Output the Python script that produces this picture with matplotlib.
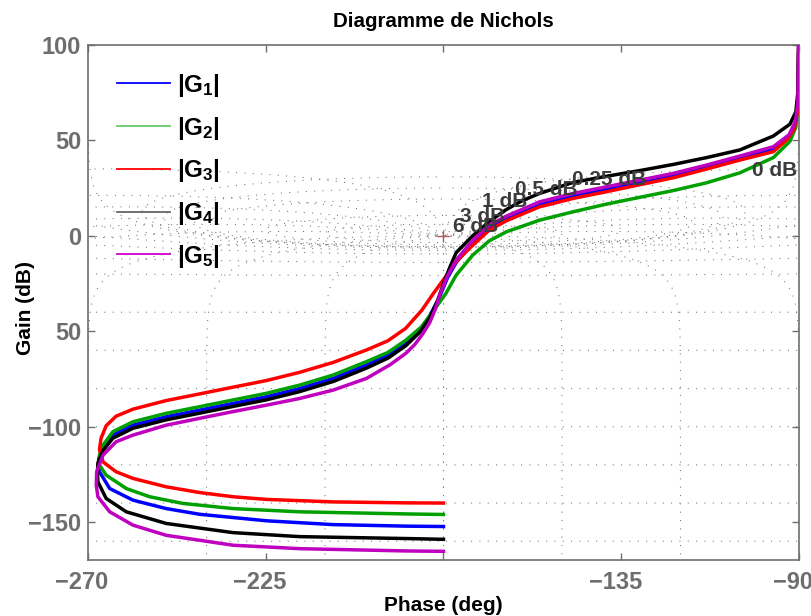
import numpy as np
import matplotlib
matplotlib.use('Agg')
import matplotlib.pyplot as plt
from matplotlib.lines import Line2D
from matplotlib.transforms import ScaledTranslation

plt.rcParams['font.family'] = ['Liberation Sans', 'DejaVu Sans']
plt.rcParams['font.weight'] = 'bold'
plt.rcParams['mathtext.fontset'] = 'custom'
plt.rcParams['mathtext.rm'] = 'Liberation Sans:bold'
plt.rcParams['mathtext.bf'] = 'Liberation Sans:bold'
plt.rcParams['mathtext.it'] = 'Liberation Sans:bold'
plt.rcParams['mathtext.default'] = 'bf'

# ---- data (phase in deg, gain in dB) ----
g1_phase = [-90.05, -90.3, -91.0, -92.7, -96.5, -105.0, -113.4, -121.9, -130.3, -138.8,
            -147.2, -155.7, -164.1, -168.4, -172.6, -176.8, -179.0, -181.0, -183.5, -185.8,
            -189.5, -194.0, -199.5, -207.9, -216.4, -224.8, -233.3, -241.7, -250.2, -258.6,
            -263.7, -266.2, -267.3, -267.1, -264.5, -258.6, -250.2, -241.7, -224.8, -207.9,
            -189.5, -180.0]
g1_gain = [105, 68, 58, 52, 45.5, 40.8, 36.2, 31.7, 28.0, 24.5,
           21.0, 16.6, 9.1, 4.4, -3.5, -14.0, -22.0, -32.0, -42.0, -48.8,
           -55.8, -62.3, -67.7, -74.7, -80.0, -84.3, -87.8, -91.3, -94.8, -99.2,
           -104.4, -111.0, -117.0, -123.6, -132.4, -138.5, -142.9, -145.9, -149.3, -151.3,
           -152.1, -152.3]

g2_phase = [-90.05, -90.3, -90.8, -92.3, -96.5, -105.0, -113.4, -121.9, -130.3, -138.8,
            -147.2, -155.7, -164.1, -168.4, -172.6, -176.8, -179.4, -181.4, -185.6, -189.5,
            -194.0, -199.5, -207.9, -216.4, -224.8, -233.3, -241.7, -250.2, -258.6, -263.7,
            -266.2, -267.1, -267.1, -265.4, -260.3, -254.4, -246.0, -233.3, -216.4, -189.5,
            -180.0]
g2_gain = [105, 68, 57, 49.5, 41.0, 33.0, 27.8, 23.7, 20.2, 16.6,
           12.6, 8.2, 2.1, -2.6, -10.1, -20.6, -30.2, -36.0, -47.7, -54.6,
           -61.0, -65.9, -72.9, -78.2, -82.5, -86.0, -89.5, -93.0, -97.4, -102.6,
           -109.7, -114.9, -120.1, -125.4, -132.4, -136.7, -140.2, -142.9, -144.6, -145.7,
           -146.0]

g3_phase = [-90.05, -90.3, -91.2, -93.0, -96.5, -105.0, -113.4, -121.9, -130.3, -138.8,
            -147.2, -155.7, -164.1, -168.4, -172.6, -176.8, -179.5, -182.5, -185.5, -189.6,
            -194.1, -199.5, -207.9, -216.4, -224.8, -233.3, -241.7, -250.2, -258.6, -262.9,
            -265.4, -266.7, -267.1, -266.2, -262.9, -258.6, -250.2, -241.7, -233.3, -224.8,
            -207.9, -189.5, -180.0]
g3_gain = [105, 66, 56, 50.5, 44.1, 39.7, 35.0, 30.4, 26.8, 23.1,
           19.6, 15.2, 7.9, 3.0, -4.9, -13.5, -21.5, -30.0, -39.0, -48.5,
           -55.0, -59.8, -66.3, -71.5, -75.8, -79.3, -82.8, -86.3, -90.8, -94.5,
           -99.5, -106.1, -112.0, -118.4, -123.6, -127.1, -131.5, -134.5, -136.7, -138.1,
           -139.4, -139.9, -140.0]

g4_phase = [-90.05, -90.3, -90.8, -92.3, -96.5, -105.0, -113.4, -121.9, -130.3, -138.8,
            -147.2, -155.7, -160.0, -164.1, -168.4, -172.6, -176.8, -178.5, -180.0, -181.5,
            -183.5, -186.0, -189.5, -194.0, -199.5, -207.9, -216.4, -224.8, -233.3, -241.7,
            -250.2, -258.6, -263.7, -266.2, -267.5, -267.6, -267.5, -265.4, -260.3, -250.2,
            -233.3, -216.4, -189.5, -180.0]
g4_gain = [105, 75, 65, 58.5, 52.3, 45.0, 41.0, 37.4, 34.2, 31.2,
           28.0, 22.2, 18.5, 13.8, 7.5, 0.0, -8.8, -17.0, -25.0, -34.0,
           -43.0, -50.5, -57.5, -64.0, -69.3, -76.3, -81.6, -85.9, -89.4, -92.9,
           -96.4, -100.8, -106.0, -112.5, -119.0, -124.5, -128.9, -137.6, -144.6, -150.7,
           -155.5, -157.6, -158.6, -159.0]

g5_phase = [-90.05, -90.3, -90.9, -92.5, -96.5, -105.0, -113.4, -121.9, -130.3, -138.8,
            -147.2, -155.7, -164.1, -168.4, -172.6, -176.8, -179.0, -180.8, -182.0, -183.5,
            -185.3, -187.3, -189.5, -193.5, -199.5, -207.9, -216.4, -224.8, -233.3, -241.7,
            -250.2, -258.6, -262.9, -266.2, -267.8, -267.9, -267.5, -264.5, -258.6, -250.2,
            -233.3, -216.4, -189.5, -180.0]
g5_gain = [105, 70, 60, 53, 46.7, 41.8, 37.1, 32.7, 29.2, 25.7,
           22.2, 17.8, 10.3, 5.6, -2.3, -12.7, -21.0, -30.0, -38.0, -45.5,
           -51.5, -57.0, -61.5, -67.5, -74.7, -80.8, -85.2, -88.7, -92.1, -95.6,
           -99.2, -104.4, -107.9, -114.9, -123.6, -130.6, -136.7, -144.6, -151.6, -156.9,
           -162.1, -163.9, -165.1, -165.3]

labels = [r'$|G_1|$', r'$|G_2|$', r'$|G_3|$', r'$|G_4|$', r'$|G_5|$']
line_colors = ['#0000ff', '#00a000', '#ff0000', '#000000', '#bf00bf']
legend_colors = ['#0000ff', '#66cc66', '#ff0000', '#666666', '#cc00cc']

# closed-loop gain contour labels (text, phase, gain)
contour_labels = [('6 dB', -177.6, 5.1), ('3 dB', -175.8, 10.3), ('1 dB', -170.2, 18.2),
                  ('0.5 dB', -161.9, 24.5), ('0.25 dB', -147.4, 29.7), ('0 dB', -101.8, 34.4)]

grid_gains_db = [6, 3, 1, 0.5, 0.25, 0, -1, -3, -6, -12, -20, -40, -60, -80, -100,
                 -120, -140, -160]
grid_phases = [1, 5, 10, 20, 30, 50, 90, 120, 150, 180]

gray = '#6e6e6e'

fig = plt.figure(figsize=(8.12, 6.16), dpi=100)
ax = fig.add_axes([88 / 812, 1 - 560.3 / 616, (799 - 88) / 812, (560.3 - 45) / 616])

# Nichols chart grid (closed loop M and N contours)
gkw = dict(color='0.45', lw=0.75, linestyle=(0, (1.0, 7)), zorder=1)
th = np.radians(np.linspace(-359.95, -0.05, 3000))
for mdb in grid_gains_db:
    T = 10 ** (mdb / 20) * np.exp(1j * th)
    G = T / (1 - T)
    ph = np.degrees(np.unwrap(np.angle(G)))
    gdb = 20 * np.log10(np.abs(G))
    for k in (-720, -360, 0, 360):
        ax.plot(ph + k, gdb, **gkw)
mag = np.logspace(-9, 5, 4000)
for p in grid_phases:
    for s in (1, -1):
        T = mag * np.exp(1j * np.radians(s * p))
        G = T / (1 - T)
        ph = np.degrees(np.unwrap(np.angle(G)))
        gdb = 20 * np.log10(np.abs(G))
        for k in (-720, -360, 0, 360):
            ax.plot(ph + k, gdb, **gkw)

ax.plot([-180], [0], marker='+', color='#b05a5a', ms=9, mew=1, zorder=3)

curves = [(g1_phase, g1_gain), (g2_phase, g2_gain), (g3_phase, g3_gain),
          (g4_phase, g4_gain), (g5_phase, g5_gain)]
for (ph, gn), c in zip(curves, line_colors):
    ax.plot(ph, gn, color=c, lw=2.5, zorder=4, solid_joinstyle='round')

for txt, p, g in contour_labels:
    ax.text(p, g, txt, color='#3c3c3c', fontsize=15, fontweight='bold',
            ha='left', va='center', zorder=5)

ax.set_xlim(-270, -90)
ax.set_ylim(-170, 100)
ax.set_xticks([-270, -225, -180, -135, -90])
ax.set_xticklabels(['\u2212270', '\u2212225', '', '\u2212135', '\u221290'])
ax.set_yticks([-150, -100, -50, 0, 50, 100])
ax.set_yticklabels(['\u2212150', '\u2212100', '50', '0', '50', '100'])
ax.tick_params(direction='in', length=5, width=1, color=gray, labelcolor=gray,
               labelsize=17, top=True, right=True)
ax.tick_params(axis='x', pad=8)
ax.tick_params(axis='y', pad=5)
shift = ScaledTranslation(-6 / 100, 0, fig.dpi_scale_trans)
for lab in ax.get_xticklabels():
    lab.set_transform(lab.get_transform() + shift)
for lab in ax.get_xticklabels() + ax.get_yticklabels():
    lab.set_fontweight('bold')
for sp in ax.spines.values():
    sp.set_color(gray)
    sp.set_linewidth(1.2)

ax.set_title('Diagramme de Nichols', fontsize=14.8, fontweight='bold', pad=13)
ax.set_xlabel('Phase (deg)', fontsize=15, fontweight='bold', labelpad=1)
ax.set_ylabel('Gain (dB)', fontsize=15, fontweight='bold')
ax.yaxis.set_label_coords((35 - 88) / 711, 0.49)

handles = [Line2D([], [], color=c, lw=1.3) for c in legend_colors]
ax.legend(handles, labels, loc='upper left', bbox_to_anchor=(117 / 812, 1 - 72 / 616),
          bbox_transform=fig.transFigure, frameon=False, fontsize=17.5,
          handlelength=2.18, handletextpad=0.3, labelspacing=0.645,
          borderpad=0, borderaxespad=0)

fig.savefig('out.png', dpi=100, facecolor='white')
